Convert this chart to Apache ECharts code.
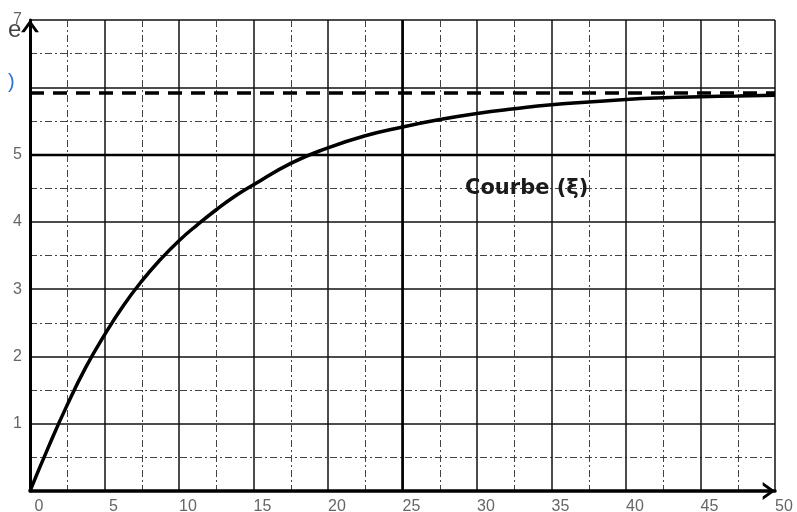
<!DOCTYPE html>
<html><head><meta charset="utf-8">
<script src="https://cdn.jsdelivr.net/npm/echarts@6/dist/echarts.min.js"></script>
<style>html,body{margin:0;padding:0;background:#fff}#c{width:797px;height:512px}</style>
</head><body><div id="c"></div>
<script>
// ---- data ----
const xMin = 0, xMax = 50, xStep = 5;
const yMin = 0, yMax = 7, yStep = 1;
const yHiddenLabels = [0, 6];
const curveX = [0, 1.25, 2.5, 3.75, 5, 6.25, 7.5, 8.75, 10, 11.25, 12.5, 13.75, 15, 17.5, 20, 22.5, 25, 27.5, 30, 32.5, 35, 37.5, 40, 42.5, 45, 47.5, 50];
const curveY = [0, 0.66, 1.28, 1.84, 2.32, 2.75, 3.12, 3.44, 3.72, 3.96, 4.18, 4.38, 4.55, 4.87, 5.10, 5.28, 5.41, 5.52, 5.61, 5.68, 5.74, 5.78, 5.82, 5.845, 5.86, 5.87, 5.88];
const asymptoteY = 5.92;
const boldX = 25;
const boldY = 5;
const curveLabel = 'Courbe (\u03BE)';
const cornerTextA = 'e';
const cornerTextB = ')';

const chevron = 'path://M0,14 L10,0 L20,14 L16,14 L10,5.5 L4,14 Z';

const chart = echarts.init(document.getElementById('c'), null, {renderer: 'canvas'});
const labelFont = {fontFamily: 'Liberation Sans', fontSize: 16, color: '#666'};

chart.setOption({
  animation: false,
  backgroundColor: '#fff',
  grid: {left: 30, right: 22, top: 20, bottom: 21, containLabel: false, outerBoundsMode: 'none'},
  xAxis: {
    type: 'value', min: xMin, max: xMax, interval: xStep,
    axisLine: {show: true, lineStyle: {color: '#000', width: 3.5}, symbol: ['none', chevron], symbolSize: [18, 13], symbolOffset: [0, -6]},
    axisTick: {show: false},
    axisLabel: Object.assign({margin: 8, padding: [0, 0, 0, 18]}, labelFont),
    splitLine: {show: true, lineStyle: {color: '#111', width: 1.5}},
    minorTick: {show: true, splitNumber: 2, length: 0, lineStyle: {opacity: 0}},
    minorSplitLine: {show: true, lineStyle: {color: '#444', width: 1, type: [7, 3, 2, 3]}}
  },
  yAxis: {
    type: 'value', min: yMin, max: yMax, interval: yStep,
    axisLine: {show: true, lineStyle: {color: '#000', width: 3}, symbol: ['none', chevron], symbolSize: [18, 13], symbolOffset: [0, -6]},
    axisTick: {show: false},
    axisLabel: Object.assign({margin: 8, padding: [0, 0, 14, 0],
      formatter: v => yHiddenLabels.includes(v) ? '' : String(v)}, labelFont),
    splitLine: {show: true, lineStyle: {color: '#111', width: 1.5}},
    minorTick: {show: true, splitNumber: 2, length: 0, lineStyle: {opacity: 0}},
    minorSplitLine: {show: true, lineStyle: {color: '#444', width: 1, type: [7, 3, 2, 3]}}
  },
  series: [{
    type: 'line',
    data: curveX.map((x, i) => [x, curveY[i]]),
    showSymbol: false,
    smooth: 0.5,
    lineStyle: {color: '#000', width: 3.5},
    z: 5,
    markLine: {
      silent: true, symbol: ['none', 'none'], label: {show: false},
      data: [
        {xAxis: boldX, lineStyle: {color: '#000', width: 2.6, type: 'solid'}},
        {yAxis: boldY, lineStyle: {color: '#000', width: 2.4, type: 'solid'}},
        {yAxis: asymptoteY, lineStyle: {color: '#000', width: 3.6, type: [14, 9]}}
      ]
    }
  }],
  graphic: [
    {type: 'text', left: 465, top: 178, z: 10, style: {text: curveLabel, fontFamily: 'DejaVu Sans', fontWeight: 'bold', fontSize: 21, fill: '#1a1a1a'}},
    {type: 'text', left: 8, top: 18, z: 10, style: {text: cornerTextA, fontFamily: 'Liberation Sans', fontSize: 24, fill: '#444'}},
    {type: 'text', left: 8, top: 72, z: 10, style: {text: cornerTextB, fontFamily: 'Liberation Sans', fontSize: 20, fill: '#2f6fd0'}}
  ]
});
</script>
</body></html>
